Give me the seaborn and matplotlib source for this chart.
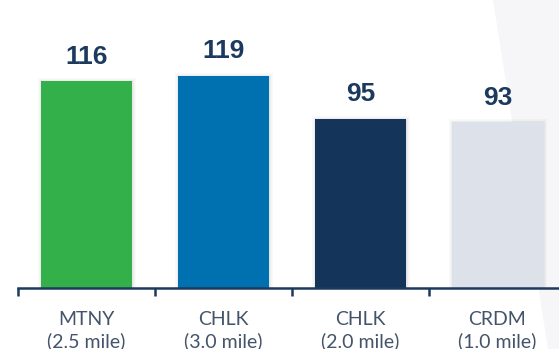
import matplotlib
matplotlib.use("Agg")
import matplotlib.pyplot as plt
import matplotlib.patheffects as pe
from matplotlib.patches import Polygon
import seaborn as sns
import pandas as pd

# Chart data
sites = ["MTNY\n(2.5 mile)", "CHLK\n(3.0 mile)", "CHLK\n(2.0 mile)", "CRDM\n(1.0 mile)"]
scores = [116, 119, 95, 93]
bar_colors = ["#34b04a", "#0071b0", "#14345a", "#dde1ea"]

df = pd.DataFrame({"site": sites, "score": scores})

sns.set_theme(style="white")
plt.rcParams["font.family"] = ["Lato", "DejaVu Sans"]

W, H = 559, 349
fig = plt.figure(figsize=(W / 100, H / 100), dpi=100)
fig.patch.set_facecolor("white")

# faint background panel on the right edge
fig.patches.append(Polygon([(493 / W, 1), (1, 1), (1, 0), (548 / W, 0)],
                           closed=True, transform=fig.transFigure,
                           facecolor="#f6f6f8", edgecolor="none", zorder=-5))

ax = fig.add_axes([18 / W, (H - 287.5) / H, (W - 18) / W, 287.5 / H])
ax.set_facecolor("none")
ax.set_zorder(2)

sns.barplot(data=df, x="site", y="score", hue="site", palette=bar_colors,
            width=0.664, legend=False, saturation=1, ax=ax)

shadow = [pe.Stroke(linewidth=5, foreground="#000000", alpha=0.025),
          pe.Stroke(linewidth=2.5, foreground="#000000", alpha=0.05),
          pe.Normal()]
for bar in ax.patches:
    bar.set_edgecolor("none")
    bar.set_path_effects(shadow)

for bar, val in zip(ax.patches, scores):
    ax.text(bar.get_x() + bar.get_width() / 2, val + 7, f"{val}",
            ha="center", va="bottom", fontsize=19, fontweight="bold",
            color="#1c3a5e", family="Liberation Sans")

ax.set_xlim(-0.5, 3.45)
ax.set_ylim(0, 161.7)
ax.set_xlabel("")
ax.set_ylabel("")
ax.set_yticks([])

for side in ["top", "right", "left"]:
    ax.spines[side].set_visible(False)
ax.spines["bottom"].set_color("#1c3a5e")
ax.spines["bottom"].set_linewidth(1.8)

ax.set_xticks([0, 1, 2, 3])
ax.set_xticklabels(sites, fontsize=14, color="#44546a", linespacing=1.25)
ax.set_xticks([-0.5, 0.5, 1.5, 2.5], minor=True)
ax.tick_params(axis="x", which="major", length=0, pad=17)
ax.tick_params(axis="x", which="minor", length=6, width=1.8, color="#1c3a5e",
               direction="out", bottom=True)

fig.savefig("out.png", dpi=100)
